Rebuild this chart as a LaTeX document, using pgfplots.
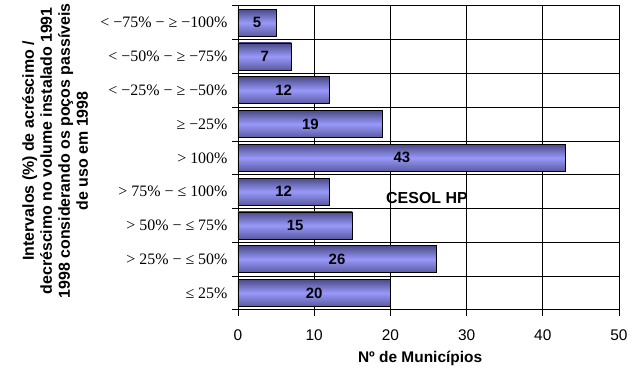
\documentclass[border=0pt]{standalone}
\usepackage{fontspec}
\setmainfont{Liberation Sans}
\newfontfamily\tim{Liberation Serif}
\usepackage{pgfplots}
\pgfplotsset{compat=1.18}
\definecolor{bartop}{RGB}{75,75,135}
\definecolor{barmid}{RGB}{152,152,250}
\definecolor{barbot}{RGB}{90,90,160}
\pgfplotsset{mybar/.style={xbar, bar width=27bp, bar shift=0pt, draw=black, line width=0.7pt, top color=bartop, bottom color=barbot, middle color=barmid}}
\begin{document}
\begin{tikzpicture}
\begin{axis}[
  at={(0,0)}, anchor=south west,
  scale only axis, width=381bp, height=304bp,
  xmin=0, xmax=50, ymin=-0.5, ymax=8.5,
  xtick={0,10,...,50},
  ytick={-0.5,0.5,...,8.5}, yticklabels={},
  extra y ticks={0,1,2,3,4,5,6,7,8},
  extra y tick labels={{≤ 25\%},{> 25\% − ≤ 50\%},{> 50\% − ≤ 75\%},{> 75\% − ≤ 100\%},{> 100\%},{≥ −25\%},{< −25\% − ≥ −50\%},{< −50\% − ≥ −75\%},{< −75\% − ≥ −100\%}},
  extra y tick style={major tick length=0pt, grid=none, yticklabel style={font=\tim\fontsize{16}{16}\selectfont, xshift=-7bp}},
  xmajorgrids, ymajorgrids,
  grid style={black, line width=0.8pt},
  axis line style={black, line width=0.8pt},
  tick style={black, line width=0.8pt},
  tick align=outside, major tick length=6bp,
  xtick pos=bottom, ytick pos=left,
  /pgf/number format/assume math mode=true,
  xticklabel style={font=\fontsize{15.5}{15.5}\selectfont, yshift=-10bp},
  xlabel={Nº de Municípios},
  xlabel style={at={(axis description cs:0.478,-0.161)}, anchor=center, font=\bfseries\fontsize{15.5}{15.5}\selectfont},
  ylabel={Intervalos (\%) de acréscimo /\\decréscimo no volume instalado 1991\\1998 considerando os poços passíveis\\de uso em 1998},
  ylabel style={at={(axis description cs:-0.480,0.523)}, anchor=center, align=center, font=\bfseries\fontsize{16}{18}\selectfont},
]
\addplot[mybar] coordinates {(20,0)};
\addplot[mybar] coordinates {(26,1)};
\addplot[mybar] coordinates {(15,2)};
\addplot[mybar] coordinates {(12,3)};
\addplot[mybar] coordinates {(43,4)};
\addplot[mybar] coordinates {(19,5)};
\addplot[mybar] coordinates {(12,6)};
\addplot[mybar] coordinates {(7,7)};
\addplot[mybar] coordinates {(5,8)};
\addplot[draw=none, mark=none, nodes near coords, point meta=explicit symbolic,
  every node near coord/.append style={anchor=center, font=\bfseries\fontsize{15}{15}\selectfont, text=black}]
  table[meta=v] {
x y v
10 0 20
13 1 26
7.5 2 15
6 3 12
21.5 4 43
9.5 5 19
6 6 12
3.5 7 7
2.5 8 5
};
\node[font=\bfseries\fontsize{16}{16}\selectfont] at (axis cs:24.8,2.8) {CESOL HP};
\end{axis}
\path[use as bounding box] (-238bp,-61bp) rectangle (398bp,309bp);
\end{tikzpicture}
\end{document}
